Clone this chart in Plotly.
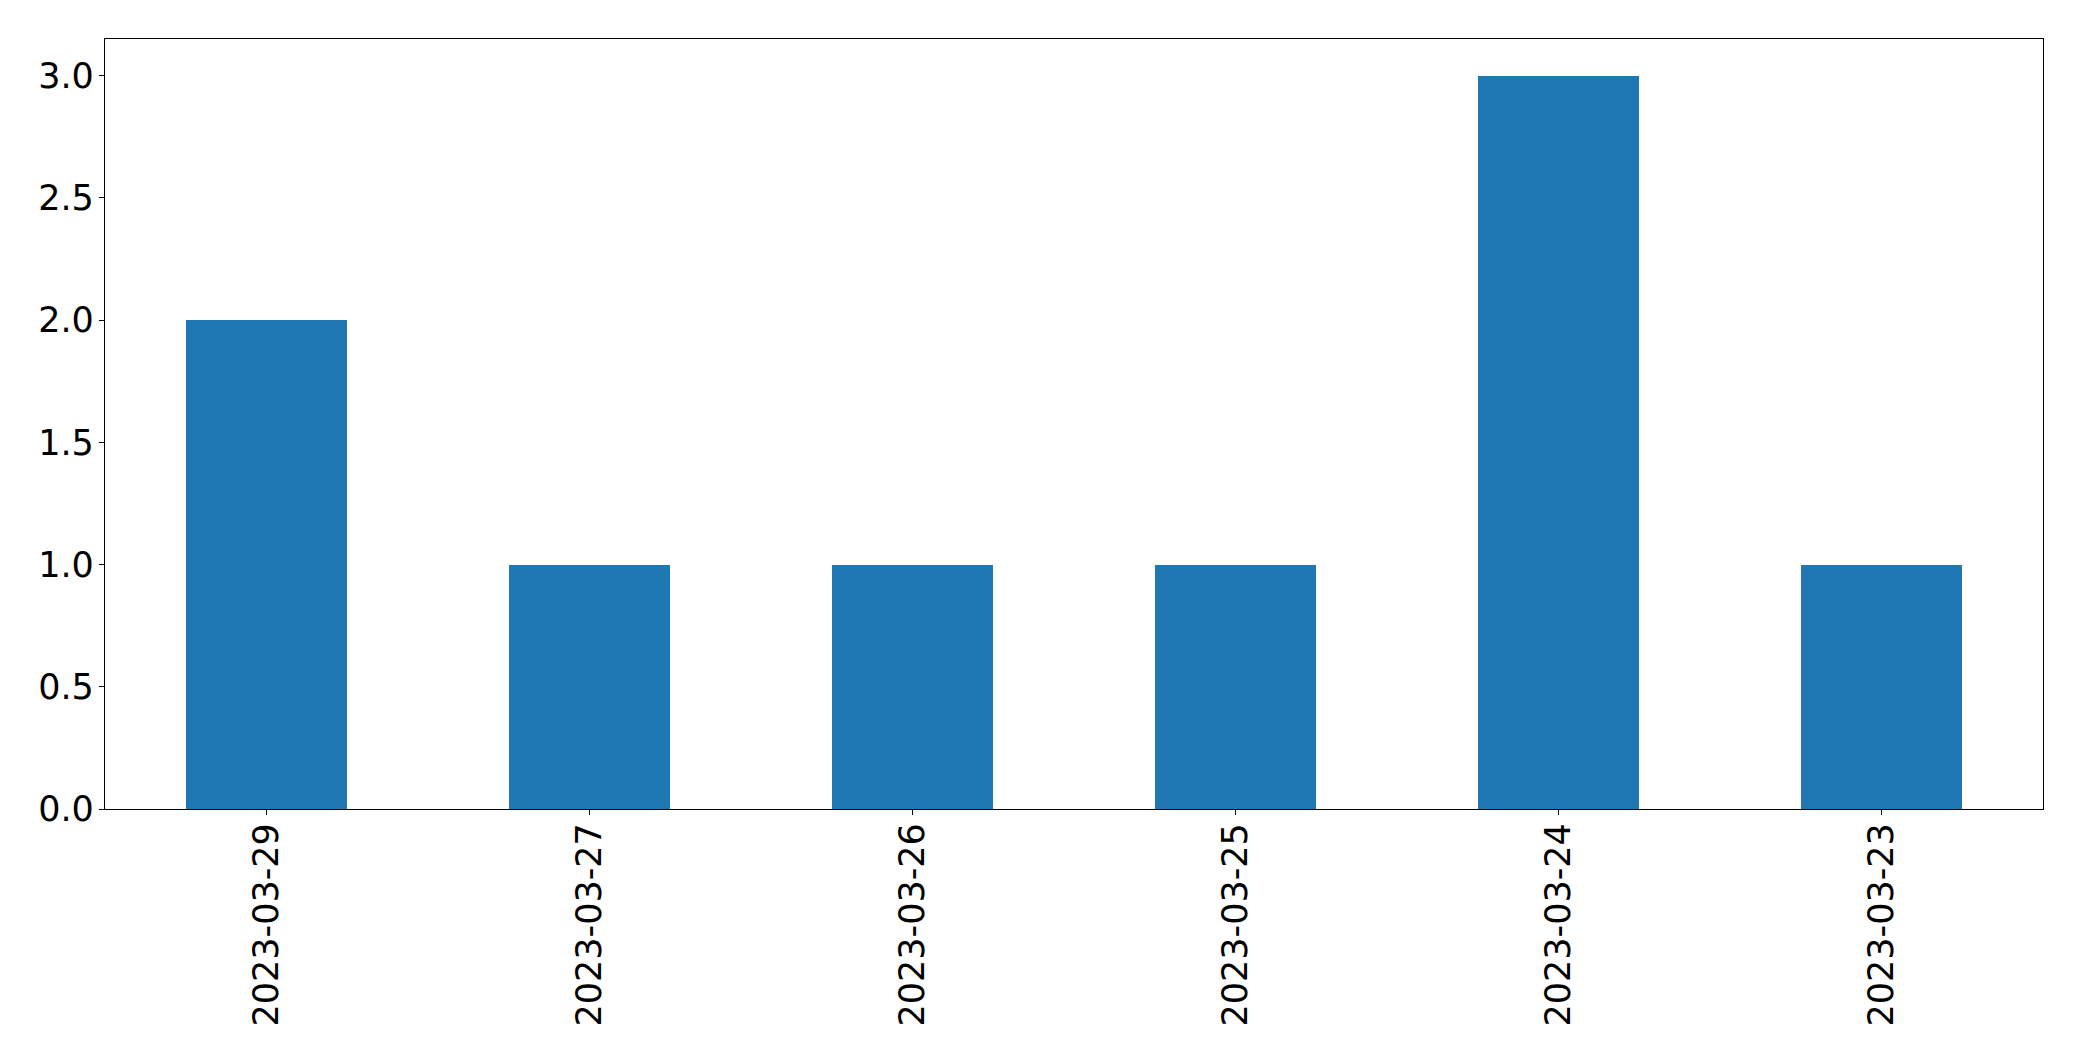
import plotly.graph_objects as go

dates = ["2023-03-29", "2023-03-27", "2023-03-26", "2023-03-25", "2023-03-24", "2023-03-23"]
counts = [2, 1, 1, 1, 3, 1]
y_ticks = [0.0, 0.5, 1.0, 1.5, 2.0, 2.5, 3.0]

fig = go.Figure(go.Bar(x=dates, y=counts, width=0.5, marker=dict(color="#1f77b4", line=dict(width=0))))

fig.update_layout(
    width=2074, height=1053,
    margin=dict(l=97, r=39, t=31, b=252, pad=0),
    plot_bgcolor="white", paper_bgcolor="white",
    font=dict(family="DejaVu Sans", size=35, color="black"),
    showlegend=False,
    bargap=0,
)
fig.update_xaxes(
    type="category", range=[-0.5, 5.5], tickangle=-90,
    showline=True, mirror=True, linecolor="black", linewidth=1.3,
    ticks="outside", ticklen=5, tickwidth=1.3, tickcolor="black",
    showgrid=False, zeroline=False, ticklabelstandoff=-6,
)
fig.update_yaxes(
    range=[0, 3.15], tickvals=y_ticks, ticktext=[f"{v:.1f}" for v in y_ticks],
    showline=True, mirror=True, linecolor="black", linewidth=1.3,
    ticks="outside", ticklen=5, tickwidth=1.3, tickcolor="black",
    showgrid=False, zeroline=False, ticklabelstandoff=-2,
)

fig.write_html("out.html")
